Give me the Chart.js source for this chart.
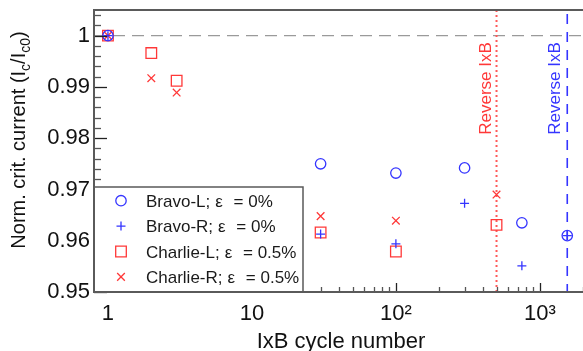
<!DOCTYPE html>
<html>
<head>
<meta charset="utf-8">
<script src="https://cdn.jsdelivr.net/npm/chart.js@4.4.0/dist/chart.umd.min.js"></script>
<style>
  html, body { margin: 0; padding: 0; background: #fff; overflow: hidden; }
  .chart-box { width: 592px; height: 351px; }
</style>
</head>
<body>
<div class="chart-box"><canvas id="icChart" width="592" height="351"></canvas></div>
<script>
/* DATA */
const bravoCycles = [1, 30, 100, 300, 750, 1550];
const bravoL = [1.0, 0.9750, 0.9732, 0.9742, 0.9635, 0.9610];
const bravoR = [1.0, 0.9613, 0.9594, 0.9673, 0.9551, 0.9610];
const charlieCycles = [1, 2, 3, 30, 100, 500];
const charlieL = [1.0, 0.9966, 0.9912, 0.9616, 0.9579, 0.9631];
const charlieR = [1.0, 0.9917, 0.9889, 0.9648, 0.9639, 0.9690];

const seriesNames = ['Bravo-L;', 'Bravo-R;', 'Charlie-L;', 'Charlie-R;'];
const strainLabels = ['= 0%', '= 0%', '= 0.5%', '= 0.5%'];

const xTickValues = [1, 10, 100, 1000];
const xTickLabels = ['1', '10', '10²', '10³'];
const yTickValues = [0.95, 0.96, 0.97, 0.98, 0.99, 1];
const yTickLabels = ['0.95', '0.96', '0.97', '0.98', '0.99', '1'];

const reverseRed = 500;   // REVERSE IxB CHARLIE
const reverseBlue = 1550; // REVERSE IxB BRAVO

const BLUE = '#3535ff';
const RED = '#ff3838';
const FONT = '"Liberation Sans", Arial, Helvetica, sans-serif';

// GABUNG X DAN Y JADI TITIK
function toPoints(xs, ys) {
    return xs.map((x, i) => ({ x: x, y: ys[i] }));
}

// GAMBAR MARKER UNTUK LEGEND
function drawMarker(ctx, style, r, x, y, color) {
    ctx.save();
    ctx.strokeStyle = color;
    ctx.lineWidth = 1.3;
    ctx.beginPath();
    if (style === 'circle') {
        ctx.arc(x, y, r, 0, Math.PI * 2);
    } else if (style === 'cross') {
        ctx.moveTo(x - r, y); ctx.lineTo(x + r, y);
        ctx.moveTo(x, y - r); ctx.lineTo(x, y + r);
    } else if (style === 'rect') {
        const s = Math.SQRT1_2 * r;
        ctx.rect(x - s, y - s, 2 * s, 2 * s);
    } else if (style === 'crossRot') {
        const d = Math.SQRT1_2 * r;
        ctx.moveTo(x - d, y - d); ctx.lineTo(x + d, y + d);
        ctx.moveTo(x - d, y + d); ctx.lineTo(x + d, y - d);
    }
    ctx.stroke();
    ctx.restore();
}

const markerStyles = [
    { style: 'circle', r: 5.2, color: BLUE },
    { style: 'cross', r: 4.5, color: BLUE },
    { style: 'rect', r: 7.5, color: RED },
    { style: 'crossRot', r: 5.4, color: RED }
];

// PLUGIN UNTUK GARIS REFERENSI, TICK KE DALAM, LEGEND DAN JUDUL
const decorPlugin = {
    id: 'decor',
    beforeDatasetsDraw(chart) {
        const ctx = chart.ctx;
        const area = chart.chartArea;
        const xs = chart.scales.x;
        const ys = chart.scales.y;
        ctx.save();
        // GARIS PUTUS-PUTUS DI Y = 1
        ctx.strokeStyle = '#9a9a9a';
        ctx.lineWidth = 1.3;
        ctx.setLineDash([12, 7]);
        ctx.beginPath();
        ctx.moveTo(area.left, ys.getPixelForValue(1));
        ctx.lineTo(area.right, ys.getPixelForValue(1));
        ctx.stroke();
        // GARIS REVERSE MERAH (TITIK-TITIK)
        const rx = xs.getPixelForValue(reverseRed);
        ctx.strokeStyle = '#ff5a5a';
        ctx.lineWidth = 2;
        ctx.setLineDash([2, 3]);
        ctx.beginPath();
        ctx.moveTo(rx, area.top);
        ctx.lineTo(rx, area.bottom);
        ctx.stroke();
        // GARIS REVERSE BIRU (PUTUS-PUTUS)
        const bx = xs.getPixelForValue(reverseBlue);
        ctx.strokeStyle = BLUE;
        ctx.lineWidth = 1.6;
        ctx.setLineDash([10, 8]);
        ctx.beginPath();
        ctx.moveTo(bx, area.top + 4);
        ctx.lineTo(bx, area.bottom);
        ctx.stroke();
        ctx.setLineDash([]);
        // TEKS REVERSE IxB
        ctx.font = '17px ' + FONT;
        ctx.textAlign = 'center';
        ctx.textBaseline = 'alphabetic';
        ctx.fillStyle = RED;
        ctx.save();
        ctx.translate(rx - 6, 88.5);
        ctx.rotate(-Math.PI / 2);
        ctx.fillText('Reverse IxB', 0, 0);
        ctx.restore();
        ctx.fillStyle = BLUE;
        ctx.save();
        ctx.translate(bx - 7.5, 88.5);
        ctx.rotate(-Math.PI / 2);
        ctx.fillText('Reverse IxB', 0, 0);
        ctx.restore();
        ctx.restore();
    },
    afterDatasetsDraw(chart) {
        const ctx = chart.ctx;
        const area = chart.chartArea;
        const xs = chart.scales.x;
        const ys = chart.scales.y;
        ctx.save();

        // TICK SUMBU Y (KE DALAM)
        ctx.lineWidth = 1.3;
        for (let i = 0; i <= 27; i++) {
            const v = 0.95 + i * 0.002;
            const py = Math.round(ys.getPixelForValue(v)) + 0.5;
            const major = i % 5 === 0;
            ctx.strokeStyle = major ? '#222' : '#555';
            ctx.beginPath();
            ctx.moveTo(area.left, py);
            ctx.lineTo(area.left + (major ? 13 : 7), py);
            ctx.stroke();
        }
        // TICK SUMBU X (KE DALAM)
        for (const d of xTickValues) {
            for (let k = 1; k <= 9; k++) {
                const v = k * d;
                if (v < xs.min || v > xs.max) continue;
                const px = Math.round(xs.getPixelForValue(v)) + 0.5;
                const major = k === 1;
                ctx.strokeStyle = major ? '#222' : '#555';
                ctx.beginPath();
                ctx.moveTo(px, area.bottom);
                ctx.lineTo(px, area.bottom - (major ? 9 : 5));
                ctx.stroke();
            }
        }

        // LEGEND
        const lx0 = area.left, ly0 = 187, lx1 = 303, ly1 = area.bottom;
        ctx.fillStyle = '#fff';
        ctx.fillRect(lx0, ly0, lx1 - lx0, ly1 - ly0);
        ctx.strokeStyle = '#5a5a5a';
        ctx.lineWidth = 1.5;
        ctx.beginPath();
        ctx.moveTo(lx0, ly0);
        ctx.lineTo(lx1, ly0);
        ctx.lineTo(lx1, ly1);
        ctx.stroke();
        ctx.font = '17px ' + FONT;
        ctx.textAlign = 'left';
        ctx.textBaseline = 'alphabetic';
        ctx.fillStyle = '#1a1a1a';
        for (let i = 0; i < seriesNames.length; i++) {
            const cy = 200.7 + i * 25.4;
            const m = markerStyles[i];
            drawMarker(ctx, m.style, m.r, 121, cy, m.color);
            let tx = 146;
            ctx.fillText(seriesNames[i], tx, cy + 6);
            tx += ctx.measureText(seriesNames[i]).width + 5;
            ctx.fillText('ε', tx, cy + 6);
            tx += ctx.measureText('ε').width + 6;
            ctx.fillText(' ' + strainLabels[i], tx, cy + 6);
        }

        // BINGKAI
        ctx.strokeStyle = '#5a5a5a';
        ctx.lineWidth = 2;
        ctx.beginPath();
        ctx.moveTo(area.right, area.top);
        ctx.lineTo(area.left, area.top);
        ctx.lineTo(area.left, area.bottom);
        ctx.lineTo(area.right, area.bottom);
        ctx.stroke();

        // JUDUL SUMBU X
        ctx.fillStyle = '#111';
        ctx.font = '22px ' + FONT;
        ctx.textAlign = 'center';
        ctx.fillText('IxB cycle number', 341, 347.5);

        // JUDUL SUMBU Y DENGAN SUBSCRIPT
        const parts = [
            { t: 'Norm. crit. current (I', sub: false },
            { t: 'c', sub: true },
            { t: '/I', sub: false },
            { t: 'c0', sub: true },
            { t: ')', sub: false }
        ];
        let total = 0;
        for (const p of parts) {
            ctx.font = (p.sub ? '14px ' : '20px ') + FONT;
            p.w = ctx.measureText(p.t).width;
            total += p.w;
        }
        ctx.save();
        ctx.translate(25, 140);
        ctx.rotate(-Math.PI / 2);
        ctx.textAlign = 'left';
        let px = -total / 2;
        for (const p of parts) {
            ctx.font = (p.sub ? '14px ' : '20px ') + FONT;
            ctx.fillText(p.t, px, p.sub ? 5 : 0);
            px += p.w;
        }
        ctx.restore();

        ctx.restore();
    }
};

// MEMBUAT CHART
function createChart() {
    const ctx = document.getElementById('icChart').getContext('2d');
    const dsBase = { showLine: false, borderWidth: 1.3, backgroundColor: 'rgba(0,0,0,0)' };
    return new Chart(ctx, {
        type: 'scatter',
        data: {
            datasets: [
                Object.assign({ label: 'Bravo-L', data: toPoints(bravoCycles, bravoL), pointStyle: 'circle', pointRadius: 5.2, borderColor: BLUE }, dsBase),
                Object.assign({ label: 'Bravo-R', data: toPoints(bravoCycles, bravoR), pointStyle: 'cross', pointRadius: 4.5, borderColor: BLUE }, dsBase),
                Object.assign({ label: 'Charlie-L', data: toPoints(charlieCycles, charlieL), pointStyle: 'rect', pointRadius: 7.5, borderColor: RED }, dsBase),
                Object.assign({ label: 'Charlie-R', data: toPoints(charlieCycles, charlieR), pointStyle: 'crossRot', pointRadius: 5.4, borderColor: RED }, dsBase)
            ]
        },
        options: {
            responsive: false,
            animation: false,
            layout: { padding: { top: 10, right: 7, left: 0, bottom: 0 } },
            plugins: {
                legend: { display: false },
                tooltip: { enabled: false }
            },
            scales: {
                x: {
                    type: 'logarithmic',
                    min: 0.8,
                    max: 2000,
                    grid: { display: false, drawTicks: false },
                    border: { display: false },
                    afterBuildTicks: (scale) => {
                        scale.ticks = xTickValues.map(v => ({ value: v }));
                    },
                    afterFit: (scale) => {
                        scale.height = 59;
                        scale.paddingLeft = 0; scale.paddingRight = 0;
                    },
                    ticks: {
                        padding: 9,
                        color: '#111',
                        font: { size: 22, family: FONT },
                        maxRotation: 0,
                        autoSkip: false,
                        callback: (value, index) => xTickLabels[index]
                    }
                },
                y: {
                    min: 0.95,
                    max: 1.005,
                    grid: { display: false, drawTicks: false },
                    border: { display: false },
                    afterBuildTicks: (scale) => {
                        scale.ticks = yTickValues.map(v => ({ value: v }));
                    },
                    afterFit: (scale) => {
                        scale.width = 94;
                        scale.paddingTop = 0; scale.paddingBottom = 0;
                    },
                    ticks: {
                        padding: 4,
                        color: '#111',
                        font: { size: 22, family: FONT },
                        autoSkip: false,
                        callback: (value, index) => yTickLabels[index]
                    }
                }
            }
        },
        plugins: [decorPlugin]
    });
}
createChart();
</script>
</body>
</html>
